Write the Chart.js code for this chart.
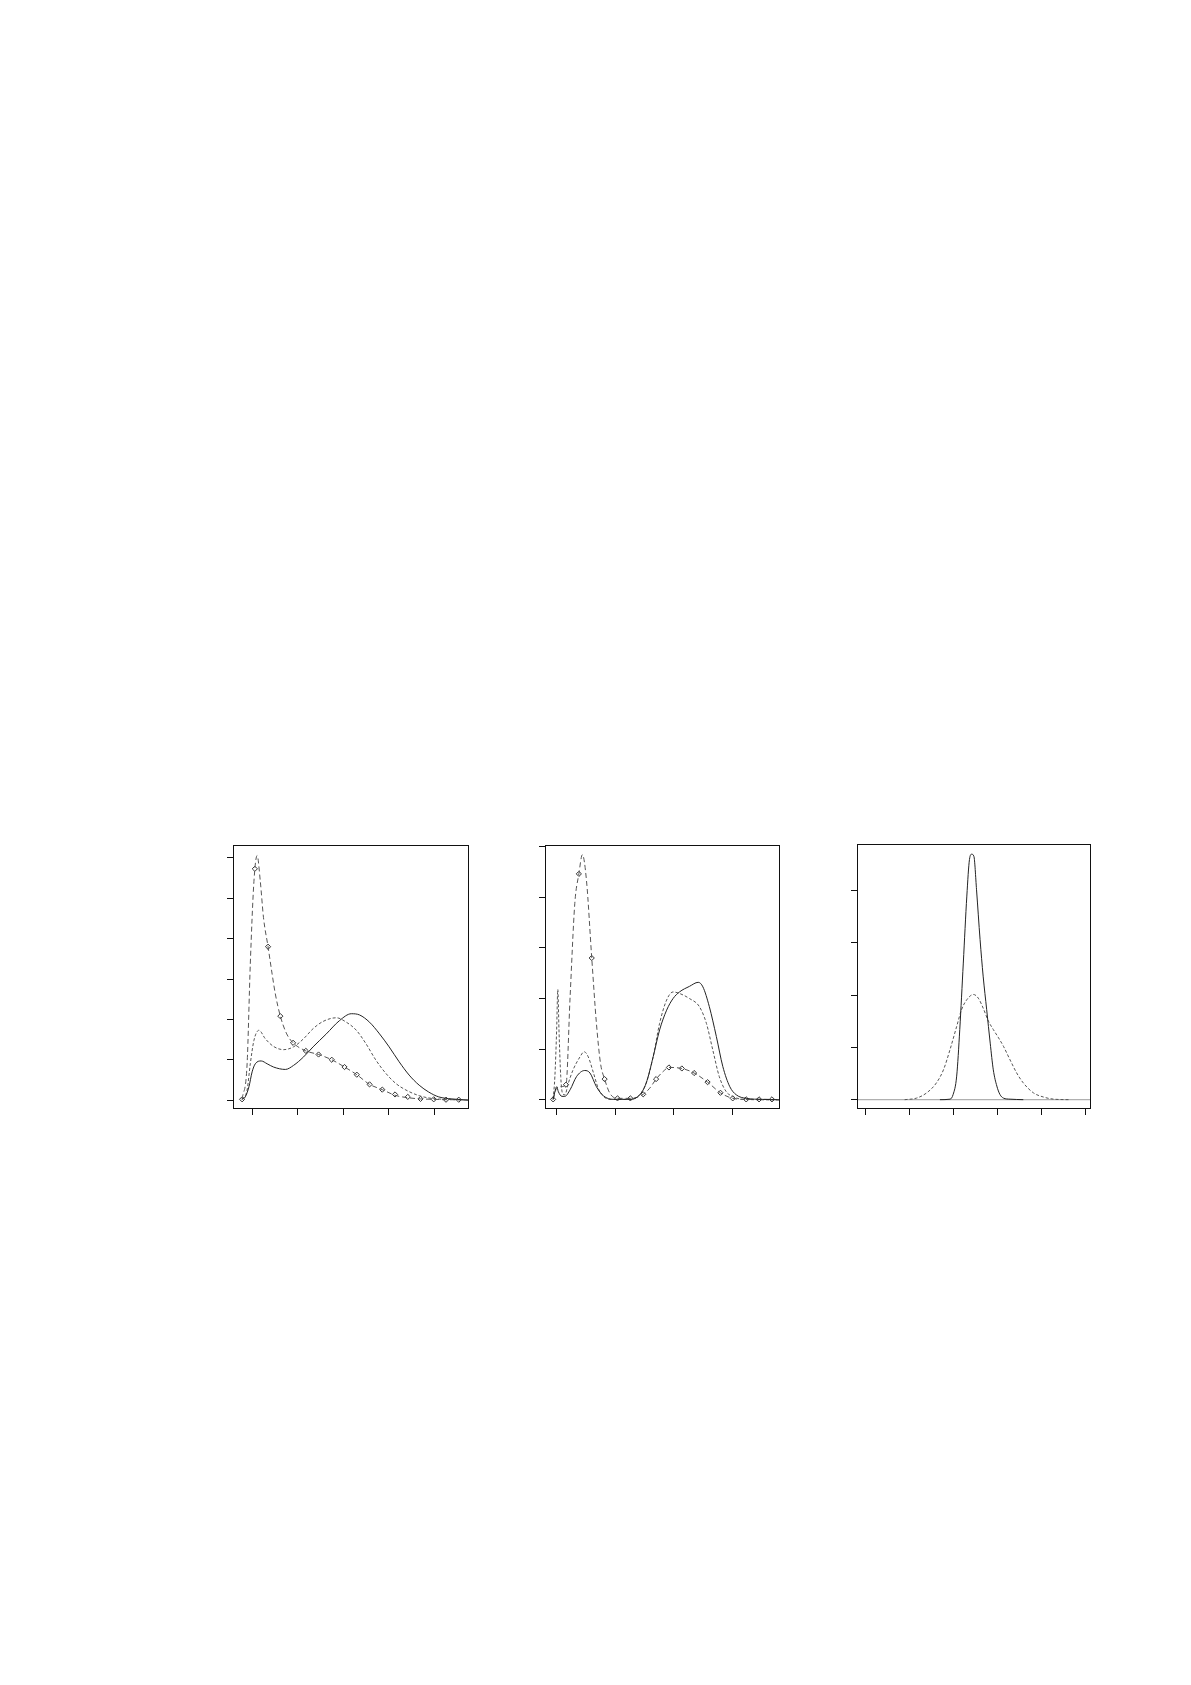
<!DOCTYPE html>
<html>
<head>
<meta charset="utf-8">
<script src="https://cdn.jsdelivr.net/npm/chart.js@4.4.0/dist/chart.umd.min.js"></script>
<style>
  body { margin:0; background:#fff; }
  .panel { position:absolute; }
</style>
</head>
<body>
<div class="panel" id="wrap1"><canvas id="canv1"></canvas></div>
<div class="panel" id="wrap2"><canvas id="canv2"></canvas></div>
<div class="panel" id="wrap3"><canvas id="canv3"></canvas></div>
<script>
// panel 1 - tick positions (no labels are printed)
var p1XTicks = [0, 1, 2, 3, 4];
var p1YTicks = [0, 1, 2, 3, 4, 5, 6];

// panel 1 - solid curve
var p1SolidX = [-0.22, -0.15, -0.07, 0, 0.07, 0.2, 0.33, 0.47, 0.73, 0.91, 1.13, 1.34, 1.63, 1.92, 2.18, 2.36, 2.58, 2.8, 3.01, 3.23, 3.45, 3.67, 3.88, 4.1, 4.39, 4.76];
var p1SolidY = [0.02, 0.08, 0.33, 0.7, 0.9, 0.97, 0.9, 0.82, 0.76, 0.86, 1.07, 1.32, 1.64, 1.97, 2.14, 2.11, 1.93, 1.64, 1.32, 0.95, 0.62, 0.37, 0.2, 0.08, 0.03, 0];

// panel 1 - short dashed curve
var p1DotX = [-0.22, -0.11, -0.04, 0.04, 0.15, 0.29, 0.47, 0.69, 0.91, 1.13, 1.34, 1.56, 1.85, 2.07, 2.29, 2.5, 2.72, 2.94, 3.16, 3.38, 3.67, 3.96, 4.25, 4.76];
var p1DotY = [0.02, 0.25, 0.9, 1.48, 1.73, 1.52, 1.33, 1.25, 1.32, 1.52, 1.77, 1.95, 2.04, 1.93, 1.73, 1.4, 0.99, 0.66, 0.41, 0.25, 0.11, 0.04, 0.02, 0];

// panel 1 - dashed curve carrying the diamonds
var p1DashX = [-0.22, -0.11, -0.04, 0.04, 0.11, 0.18, 0.25, 0.35, 0.44, 0.51, 0.62, 0.76, 0.9, 1.18, 1.46, 1.75, 2.03, 2.3, 2.58, 2.86, 3.14, 3.42, 3.7, 3.99, 4.26, 4.54, 4.76];
var p1DashY = [0.02, 0.9, 3.37, 5.42, 6.06, 5.42, 4.52, 3.8, 3.12, 2.63, 2.08, 1.64, 1.42, 1.22, 1.13, 1.0, 0.82, 0.63, 0.39, 0.26, 0.12, 0.06, 0.03, 0.02, 0.01, 0.01, 0];
var p1DiamondX = [-0.22, 0.06, 0.35, 0.62, 0.9, 1.18, 1.46, 1.75, 2.03, 2.3, 2.58, 2.86, 3.14, 3.42, 3.7, 3.99, 4.26, 4.54];
var p1DiamondY = [0.02, 5.73, 3.8, 2.08, 1.42, 1.22, 1.13, 1.0, 0.82, 0.63, 0.39, 0.26, 0.14, 0.08, 0.03, 0.02, 0.01, 0.01];

// panel 2
var p2XTicks = [0, 1, 2, 3];
var p2YTicks = [0, 1, 2, 3, 4, 5];

var p2SolidX = [-0.06, -0.03, 0, 0.03, 0.09, 0.14, 0.23, 0.34, 0.48, 0.57, 0.68, 0.8, 0.97, 1.25, 1.42, 1.53, 1.65, 1.76, 1.88, 1.99, 2.1, 2.27, 2.42, 2.5, 2.61, 2.73, 2.84, 2.96, 3.07, 3.24, 3.52, 3.82];
var p2SolidY = [0.01, 0.16, 0.26, 0.16, 0.07, 0.07, 0.2, 0.46, 0.58, 0.53, 0.26, 0.08, 0.01, 0.01, 0.1, 0.33, 0.85, 1.38, 1.77, 2.0, 2.13, 2.24, 2.32, 2.23, 1.84, 1.25, 0.66, 0.26, 0.1, 0.03, 0.01, 0];

var p2DotX = [-0.06, -0.03, 0, 0.02, 0.04, 0.07, 0.1, 0.14, 0.2, 0.28, 0.4, 0.47, 0.54, 0.63, 0.71, 0.8, 0.91, 1.25, 1.42, 1.53, 1.65, 1.76, 1.88, 1.99, 2.1, 2.27, 2.44, 2.56, 2.67, 2.78, 2.9, 3.01, 3.18, 3.82];
var p2DotY = [0.01, 0.46, 1.38, 2.18, 1.38, 0.46, 0.13, 0.1, 0.33, 0.59, 0.85, 0.95, 0.85, 0.53, 0.23, 0.07, 0.01, 0.01, 0.1, 0.33, 0.85, 1.51, 1.97, 2.13, 2.1, 2.0, 1.84, 1.51, 0.98, 0.46, 0.16, 0.07, 0.01, 0];

var p2DashX = [-0.06, 0, 0.06, 0.16, 0.23, 0.31, 0.38, 0.44, 0.51, 0.6, 0.68, 0.75, 0.82, 0.91, 1.04, 1.26, 1.48, 1.59, 1.7, 1.82, 1.92, 2.14, 2.35, 2.58, 2.8, 3.01, 3.24, 3.68, 3.82];
var p2DashY = [0.01, 0.23, 0.26, 0.3, 2.03, 3.87, 4.46, 4.84, 4.33, 2.8, 1.51, 0.72, 0.41, 0.13, 0.03, 0.03, 0.11, 0.23, 0.41, 0.56, 0.64, 0.62, 0.53, 0.35, 0.14, 0.03, 0.01, 0.01, 0];
var p2DiamondX = [-0.06, 0.16, 0.38, 0.6, 0.82, 1.04, 1.26, 1.48, 1.7, 1.92, 2.14, 2.35, 2.58, 2.8, 3.01, 3.24, 3.46, 3.68];
var p2DiamondY = [0.01, 0.3, 4.46, 2.8, 0.41, 0.03, 0.03, 0.11, 0.41, 0.64, 0.62, 0.53, 0.35, 0.14, 0.03, 0.01, 0.01, 0.01];

// panel 3
var p3XTicks = [0, 1, 2, 3, 4, 5];
var p3YTicks = [0, 1, 2, 3, 4];

var p3SolidX = [1.69, 1.92, 1.99, 2.07, 2.14, 2.22, 2.3, 2.36, 2.41, 2.46, 2.52, 2.6, 2.67, 2.75, 2.83, 2.9, 2.98, 3.05, 3.13, 3.28, 3.58];
var p3SolidY = [0, 0.01, 0.1, 0.45, 1.34, 2.61, 3.89, 4.59, 4.69, 4.65, 4.01, 3.06, 2.36, 1.72, 1.08, 0.57, 0.26, 0.1, 0.03, 0.01, 0];

var p3DotX = [0.89, 1.16, 1.39, 1.61, 1.77, 1.92, 2.07, 2.18, 2.3, 2.45, 2.56, 2.67, 2.79, 2.9, 3.02, 3.13, 3.28, 3.43, 3.58, 3.81, 4.04, 4.27, 4.64];
var p3DotY = [0, 0.03, 0.13, 0.32, 0.57, 0.96, 1.4, 1.72, 1.91, 2.01, 1.94, 1.75, 1.5, 1.34, 1.18, 1.02, 0.76, 0.51, 0.32, 0.13, 0.05, 0.01, 0];

function toPoints(xs, ys) {
    return xs.map(function(x, i) { return {x: x, y: ys[i]}; });
}

// box round the plot region and optional zero line
var boxPlugin = {
    id: 'box',
    beforeDatasetsDraw: function(chart, args, opts) {
        var a = chart.chartArea;
        var ctx = chart.ctx;
        ctx.save();
        if (opts.zeroLine) {
            var y0 = chart.scales.y.getPixelForValue(0);
            ctx.strokeStyle = '#b0b0b0';
            ctx.lineWidth = 1.2;
            ctx.beginPath();
            ctx.moveTo(a.left, y0);
            ctx.lineTo(a.right, y0);
            ctx.stroke();
        }
        ctx.restore();
    },
    afterDraw: function(chart) {
        var a = chart.chartArea;
        var ctx = chart.ctx;
        ctx.save();
        ctx.strokeStyle = '#111';
        ctx.lineWidth = 1;
        ctx.strokeRect(a.left + 0.5, a.top + 0.5, a.right - a.left - 1, a.bottom - a.top - 1);
        ctx.restore();
    }
};

function lineSet(xs, ys, color, dash, width) {
    return {
        type: 'line',
        data: toPoints(xs, ys),
        borderColor: color,
        borderWidth: width,
        borderDash: dash,
        pointRadius: 0,
        fill: false,
        cubicInterpolationMode: 'monotone'
    };
}

function diamondSet(xs, ys) {
    return {
        type: 'scatter',
        data: toPoints(xs, ys),
        showLine: false,
        pointStyle: 'rectRot',
        pointRadius: 2.6,
        pointBorderWidth: 1,
        pointBorderColor: '#333',
        pointBackgroundColor: '#fff'
    };
}

function makeAxis(min, max, tickList) {
    return {
        type: 'linear',
        min: min,
        max: max,
        afterBuildTicks: function(scale) {
            scale.ticks = tickList.map(function(v) { return {value: v}; });
        },
        ticks: {display: false},
        border: {display: false},
        grid: {drawOnChartArea: false, drawTicks: true, tickLength: 6, color: '#111', lineWidth: 1}
    };
}

function drawPanel(id, wrapId, box, datasets, xr, yr, xTicks, yTicks, zeroLine) {
    var wrap = document.getElementById(wrapId);
    wrap.style.left = (box.left - 10) + 'px';
    wrap.style.top = (box.top - 4) + 'px';
    wrap.style.width = (box.width + 14) + 'px';
    wrap.style.height = (box.height + 14) + 'px';
    return new Chart(document.getElementById(id), {
        data: {datasets: datasets},
        options: {
            responsive: true,
            maintainAspectRatio: false,
            animation: false,
            layout: {padding: {left: 4, right: 4, top: 4, bottom: 4}},
            plugins: {legend: {display: false}, tooltip: {enabled: false}, box: {zeroLine: zeroLine}},
            scales: {
                x: makeAxis(xr[0], xr[1], xTicks),
                y: makeAxis(yr[0], yr[1], yTicks)
            }
        },
        plugins: [boxPlugin]
    });
}

drawPanel('canv1', 'wrap1', {left: 233, top: 844, width: 237, height: 265}, [
    lineSet(p1SolidX, p1SolidY, '#222', [], 1),
    lineSet(p1DotX, p1DotY, '#555', [3, 2], 1),
    lineSet(p1DashX, p1DashY, '#555', [5, 3], 1),
    diamondSet(p1DiamondX, p1DiamondY)
], [-0.42, 4.765], [-0.22, 6.32], p1XTicks, p1YTicks, false);

drawPanel('canv2', 'wrap2', {left: 545, top: 844, width: 236, height: 265}, [
    lineSet(p2SolidX, p2SolidY, '#222', [], 1),
    lineSet(p2DotX, p2DotY, '#555', [3, 2], 1),
    lineSet(p2DashX, p2DashY, '#555', [5, 3], 1),
    diamondSet(p2DiamondX, p2DiamondY)
], [-0.199, 3.818], [-0.18, 5.03], p2XTicks, p2YTicks, false);

drawPanel('canv3', 'wrap3', {left: 857, top: 844, width: 234, height: 265}, [
    lineSet(p3SolidX, p3SolidY, '#222', [], 1),
    lineSet(p3DotX, p3DotY, '#555', [3, 2], 1)
], [-0.189, 5.114], [-0.178, 4.885], p3XTicks, p3YTicks, true);
</script>
</body>
</html>
